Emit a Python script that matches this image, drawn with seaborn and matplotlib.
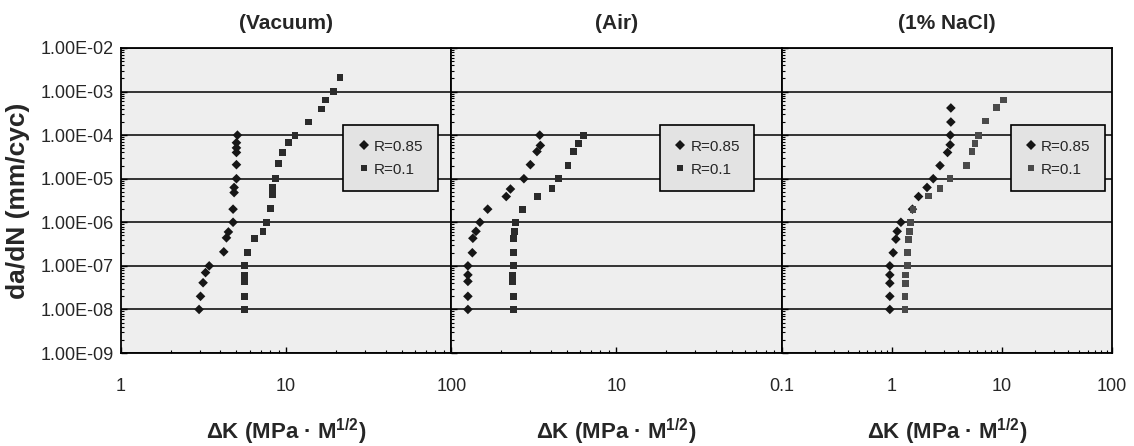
import matplotlib

matplotlib.use("Agg")
import matplotlib.pyplot as plt
import matplotlib.ticker as mticker
import numpy as np
import pandas as pd
import seaborn as sns

# ---------------------------------------------------------------------------
# Data (dK in MPa*m^1/2, da/dN in mm/cycle)
# ---------------------------------------------------------------------------
panels = ["(Vacuum)", "(Air)", "(1% NaCl)"]
series = ["R=0.85", "R=0.1"]

vac_085_dk = [5.07, 5.0, 5.0, 5.0, 5.0, 5.0, 4.84, 4.84, 4.77, 4.77, 4.47, 4.35,
              4.19, 3.42, 3.25, 3.14, 3.03, 2.97]
vac_085_dadn = [1e-4, 6.7e-5, 5.1e-5, 4e-5, 2.1e-5, 1e-5, 6.3e-6, 4.8e-6, 2e-6,
                1e-6, 6e-7, 4.4e-7, 2.1e-7, 1e-7, 7e-8, 4.1e-8, 2e-8, 1e-8]
vac_01_dk = [21.2, 19.4, 17.3, 16.3, 13.7, 11.3, 10.3, 9.5, 8.97, 8.6, 8.3, 8.25,
             8.06, 7.6, 7.24, 6.45, 5.83, 5.61, 5.61, 5.61, 5.61, 5.61]
vac_01_dadn = [2.1e-3, 1e-3, 6.4e-4, 4e-4, 2e-4, 1e-4, 6.7e-5, 4e-5, 2.2e-5, 1e-5,
               6.4e-6, 4.3e-6, 2.1e-6, 1e-6, 6.2e-7, 4.2e-7, 2e-7, 1e-7, 6.2e-8,
               4.4e-8, 2e-8, 1e-8]

air_085_dk = [3.43, 3.46, 3.30, 3.01, 2.75, 2.28, 2.15, 1.66, 1.49, 1.41, 1.35,
              1.34, 1.26, 1.26, 1.26, 1.26, 1.26]
air_085_dadn = [1e-4, 5.8e-5, 4.2e-5, 2.1e-5, 1e-5, 5.8e-6, 3.9e-6, 2e-6, 1e-6,
                6.2e-7, 4.3e-7, 2e-7, 1e-7, 6.2e-8, 4.4e-8, 2e-8, 1e-8]
air_01_dk = [6.28, 5.86, 5.52, 5.09, 4.47, 4.07, 3.32, 2.71, 2.45, 2.42, 2.38,
             2.38, 2.38, 2.34, 2.34, 2.38, 2.38]
air_01_dadn = [1e-4, 6.3e-5, 4.2e-5, 2e-5, 1e-5, 5.9e-6, 3.9e-6, 2e-6, 1e-6,
               6.2e-7, 4.3e-7, 2e-7, 1e-7, 6.2e-8, 4.4e-8, 2e-8, 1e-8]

nacl_085_dk = [3.44, 3.44, 3.40, 3.39, 3.21, 2.74, 2.38, 2.09, 1.75, 1.54, 1.21,
               1.12, 1.09, 1.03, 0.96, 0.96, 0.96, 0.96, 0.96]
nacl_085_dadn = [4.2e-4, 2e-4, 1e-4, 6e-5, 4e-5, 2e-5, 1e-5, 6.3e-6, 3.9e-6, 2e-6,
                 1e-6, 6.2e-7, 4.1e-7, 2e-7, 1e-7, 6.2e-8, 4e-8, 2e-8, 1e-8]
nacl_01_dk = [10.4, 8.87, 7.09, 6.13, 5.71, 5.36, 4.79, 3.38, 2.74, 2.14, 1.56,
              1.47, 1.44, 1.43, 1.39, 1.39, 1.34, 1.34, 1.32, 1.32]
nacl_01_dadn = [6.4e-4, 4.3e-4, 2.1e-4, 1e-4, 6.5e-5, 4.3e-5, 2e-5, 1e-5, 6e-6,
                4e-6, 2e-6, 1e-6, 6.2e-7, 4.1e-7, 2e-7, 1e-7, 6.2e-8, 4e-8, 2e-8,
                1e-8]

x_limits = [(1, 100), (1, 100), (0.1, 100)]
x_ticks = [[1, 10, 100], [1, 10, 100], [0.1, 1, 10, 100]]
x_ticklabels = [["1", "10", "100"], ["", "10", ""], ["0.1", "1", "10", "100"]]
y_ticks = [1e-9, 1e-8, 1e-7, 1e-6, 1e-5, 1e-4, 1e-3, 1e-2]

# long table for seaborn
raw = [
    (panels[0], series[0], vac_085_dk, vac_085_dadn),
    (panels[0], series[1], vac_01_dk, vac_01_dadn),
    (panels[1], series[0], air_085_dk, air_085_dadn),
    (panels[1], series[1], air_01_dk, air_01_dadn),
    (panels[2], series[0], nacl_085_dk, nacl_085_dadn),
    (panels[2], series[1], nacl_01_dk, nacl_01_dadn),
]
df = pd.concat([pd.DataFrame({"env": e, "R": r, "dk": x, "dadn": y})
                for e, r, x, y in raw], ignore_index=True)

# ---------------------------------------------------------------------------
# Plot
# ---------------------------------------------------------------------------
sns.set_style("white")
plt.rcParams["font.family"] = ["Liberation Sans", "DejaVu Sans"]
plt.rcParams["mathtext.fontset"] = "custom"
plt.rcParams["mathtext.rm"] = "Liberation Sans"
plt.rcParams["mathtext.bf"] = "Liberation Sans:bold"

fig, axes = plt.subplots(1, 3, figsize=(11.34, 4.46), dpi=100, sharey=True)
fig.subplots_adjust(left=0.1067, right=0.9806, top=0.8924, bottom=0.2085, wspace=0)

legend_x = [0.815, 0.774, 0.836]
markers = {"R=0.85": "D", "R=0.1": "s"}

for i, (ax, env) in enumerate(zip(axes, panels)):
    sub = df[df["env"] == env]
    pal = {"R=0.85": "#161616", "R=0.1": "#2b2b2b" if i < 2 else "#4a4a4a"}
    ax.set_facecolor("#eeeeee")
    ax.set_xscale("log")
    ax.set_yscale("log")
    sns.scatterplot(data=sub, x="dk", y="dadn", hue="R", style="R",
                    hue_order=series, style_order=series, markers=markers,
                    palette=pal, s=24, linewidth=0, ax=ax, zorder=3)

    ax.set_xlim(*x_limits[i])
    ax.set_ylim(1e-9, 1e-2)
    ax.xaxis.set_major_locator(mticker.FixedLocator(x_ticks[i]))
    ax.xaxis.set_major_formatter(mticker.FixedFormatter(x_ticklabels[i]))
    ax.xaxis.set_minor_locator(mticker.LogLocator(base=10, subs=np.arange(2, 10)))
    ax.xaxis.set_minor_formatter(mticker.NullFormatter())
    ax.yaxis.set_major_locator(mticker.FixedLocator(y_ticks))
    ax.yaxis.set_major_formatter(mticker.FuncFormatter(lambda v, _: f"{v:.2E}"))
    ax.yaxis.set_minor_locator(mticker.LogLocator(base=10, subs=np.arange(2, 10)))
    ax.yaxis.set_minor_formatter(mticker.NullFormatter())

    ax.grid(False)
    ax.yaxis.grid(True, which="major", color="black", linewidth=1.1, zorder=1)
    ax.set_axisbelow(True)
    for sp in ax.spines.values():
        sp.set_color("black")
        sp.set_linewidth(1.3)

    ax.tick_params(axis="both", which="both", direction="in", color="black",
                   bottom=True, left=True, top=False, right=False)
    ax.tick_params(axis="both", which="major", length=4, width=1, labelsize=13)
    ax.tick_params(axis="both", which="minor", length=2.5, width=0.8)
    ax.tick_params(axis="x", pad=18)
    ax.tick_params(axis="y", pad=5)

    ax.set_title(env, fontsize=15, fontweight="bold", pad=14)
    ax.set_xlabel(r"ΔK (MPa · M$^{\mathbf{1/2}}$)", fontsize=16,
                  fontweight="bold", labelpad=16)
    ax.set_ylabel("")

    leg = ax.legend(loc="center", bbox_to_anchor=(legend_x[i], 0.639), fontsize=11,
                    frameon=True, fancybox=False, framealpha=1, borderpad=0.95,
                    labelspacing=0.6, handletextpad=0.25, handlelength=0.8,
                    borderaxespad=0)
    leg.get_frame().set_facecolor("#e3e3e3")
    leg.get_frame().set_edgecolor("black")
    leg.get_frame().set_linewidth(1.2)
    leg.set_zorder(5)

axes[0].set_ylabel("da/dN (mm/cyc)", fontsize=19, fontweight="bold", labelpad=8)

fig.savefig("out.png", dpi=100, facecolor="white")
plt.close(fig)
